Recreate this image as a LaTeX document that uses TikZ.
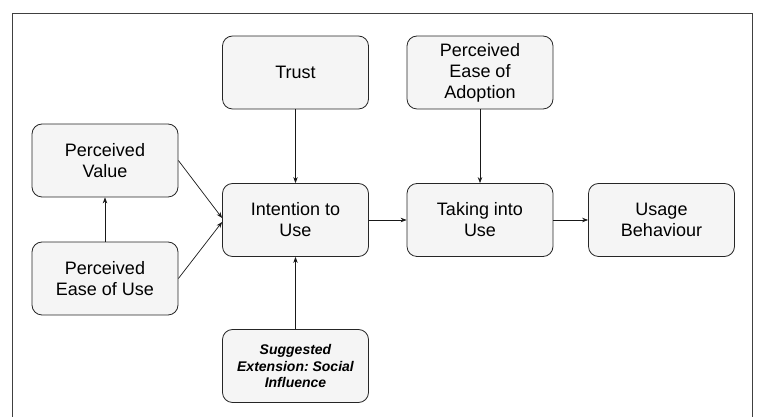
\documentclass[tikz,border=0pt]{standalone}
\usepackage{fontspec}
\setmainfont{Liberation Sans}
\usetikzlibrary{positioning,arrows.meta}
\frenchspacing

\tikzset{
  factor/.style={draw=black!85,fill=black!4,rounded corners=10pt,line width=0.8pt,
    minimum width=146pt,minimum height=73pt,align=center,
    font=\fontsize{18}{21}\selectfont},
  extension/.style={factor,font=\fontsize{14}{16.5}\selectfont\bfseries\itshape},
  link/.style={->,line width=0.7pt,draw=black!90}
}

\begin{document}
\begin{tikzpicture}[x=1pt,y=1pt,>={Stealth[length=6pt,width=4.5pt]}]

\useasboundingbox (0,0) rectangle (757,417);

%---------------------------------
% MARCO
%---------------------------------
\draw[black!75,line width=0.8pt] (12,0) -- (12,404) -- (752,404) -- (752,0);

%---------------------------------
% FACTORES
%---------------------------------
\node[factor] (trust) at (295.5,344.5) {Trust};
\node[factor] (pea)   at (480,344.5)   {Perceived\\ Ease of\\ Adoption};

\node[factor] (pv)    at (105,256.5)   {Perceived\\ Value};
\node[factor] (peu)   at (105,138.5)   {Perceived\\ Ease of Use};

\node[factor] (int)   at (295.5,197)   {Intention to\\ Use};
\node[factor] (tiu)   at (480,197)     {Taking into\\ Use};
\node[factor] (ub)    at (661.5,197)   {Usage\\ Behaviour};

% extension sugerida
\node[extension] (soc) at (295.5,51)   {Suggested\\ Extension: Social\\ Influence};

%---------------------------------
% RELACIONES
%---------------------------------
\draw[link] (trust) -- (int);
\draw[link] (soc)   -- (int);
\draw[link] (peu)   -- (pv);
\draw[link] (pv.east)  -- ([yshift=2pt]int.west);
\draw[link] (peu.east) -- ([yshift=-2pt]int.west);

\draw[link] (int) -- (tiu);
\draw[link] (tiu) -- (ub);
\draw[link] (pea) -- (tiu);

\end{tikzpicture}
\end{document}
